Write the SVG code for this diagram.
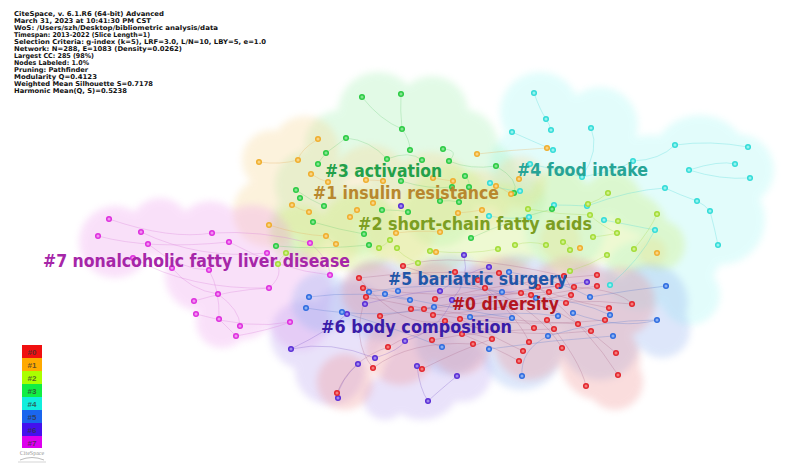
<svg xmlns="http://www.w3.org/2000/svg" width="785" height="473" viewBox="0 0 785 473">
<defs>
<filter id="soft" x="-10%" y="-10%" width="120%" height="120%"><feGaussianBlur stdDeviation="3.5"/></filter>
</defs>
<style>
.hdr{font-family:"DejaVu Sans","Liberation Sans",sans-serif;font-size:6.6px;font-weight:bold;fill:#111}
.lbl{font-family:"DejaVu Sans","Liberation Sans",sans-serif;font-size:17px;font-weight:bold}
.lg{font-family:"Liberation Sans",Arial,sans-serif;font-size:8px;font-weight:bold;fill:#333;fill-opacity:0.75;text-anchor:middle}
.cl{filter:url(#soft)}
.e path{fill:none;stroke-width:0.7}
.e0 path{stroke:#b07090;stroke-opacity:0.45}
.e1 path{stroke:#e8b060;stroke-opacity:0.45}
.e2 path{stroke:#a8d850;stroke-opacity:0.45}
.e3 path{stroke:#60c870;stroke-opacity:0.4}
.e4 path{stroke:#50d8d8;stroke-opacity:0.45}
.e5 path{stroke:#6080d0;stroke-opacity:0.45}
.e6 path{stroke:#8060c8;stroke-opacity:0.45}
.e7 path{stroke:#d880d8;stroke-opacity:0.45}
.n circle{stroke-width:1.5}
.n0 circle{fill:#f37c7c;stroke:#e3262d}
.n1 circle{fill:#f8d484;stroke:#f0ae2e}
.n2 circle{fill:#cff08c;stroke:#a4dc38}
.n3 circle{fill:#84e490;stroke:#2ccb44}
.n4 circle{fill:#96f2ee;stroke:#34dcd8}
.n5 circle{fill:#8cb0f2;stroke:#2f6de0}
.n6 circle{fill:#a088ec;stroke:#5a2fd6}
.n7 circle{fill:#f290f2;stroke:#de30de}
</style>
<rect width="785" height="473" fill="#ffffff"/>

<!-- clouds -->
<g id="cloud4" class="cl" opacity="0.3" fill="#a0f8f4">
<circle cx="540" cy="112" r="40"/><circle cx="600" cy="125" r="38"/><circle cx="530" cy="165" r="40"/><circle cx="590" cy="175" r="45"/><circle cx="650" cy="185" r="50"/><circle cx="700" cy="165" r="50"/><circle cx="738" cy="170" r="36"/><circle cx="720" cy="220" r="45"/><circle cx="680" cy="250" r="42"/><circle cx="640" cy="275" r="35"/><circle cx="690" cy="295" r="30"/><circle cx="565" cy="230" r="40"/>
</g>
<g id="cloud3" class="cl" opacity="0.3" fill="#a0f0b0">
<circle cx="378" cy="112" r="40"/><circle cx="432" cy="112" r="36"/><circle cx="340" cy="145" r="35"/><circle cx="462" cy="145" r="36"/><circle cx="400" cy="155" r="42"/><circle cx="310" cy="185" r="35"/><circle cx="485" cy="175" r="32"/><circle cx="300" cy="225" r="30"/><circle cx="360" cy="220" r="35"/><circle cx="440" cy="212" r="35"/><circle cx="520" cy="200" r="25"/>
</g>
<g id="cloud1" class="cl" opacity="0.33" fill="#f8d898">
<circle cx="272" cy="160" r="30"/><circle cx="305" cy="150" r="34"/><circle cx="268" cy="212" r="35"/><circle cx="320" cy="200" r="40"/><circle cx="370" cy="185" r="40"/><circle cx="430" cy="192" r="40"/><circle cx="330" cy="240" r="30"/><circle cx="400" cy="230" r="35"/><circle cx="480" cy="200" r="30"/><circle cx="520" cy="182" r="26"/><circle cx="560" cy="240" r="20"/><circle cx="652" cy="252" r="14"/>
</g>
<g id="cloud2" class="cl" opacity="0.35" fill="#d0f080">
<circle cx="300" cy="235" r="30"/><circle cx="360" cy="232" r="40"/><circle cx="430" cy="232" r="45"/><circle cx="500" cy="228" r="45"/><circle cx="570" cy="228" r="45"/><circle cx="628" cy="232" r="40"/><circle cx="660" cy="245" r="25"/><circle cx="560" cy="198" r="30"/><circle cx="612" cy="202" r="30"/><circle cx="450" cy="205" r="40"/>
</g>
<g id="cloud7" class="cl" opacity="0.3" fill="#ee9cee">
<circle cx="115" cy="242" r="36"/><circle cx="160" cy="228" r="30"/><circle cx="210" cy="236" r="35"/><circle cx="252" cy="245" r="40"/><circle cx="200" cy="276" r="35"/><circle cx="240" cy="300" r="40"/><circle cx="292" cy="290" r="40"/><circle cx="222" cy="322" r="26"/><circle cx="300" cy="320" r="30"/>
</g>
<g id="cloud6" class="cl" opacity="0.3" fill="#b8a0f0">
<circle cx="305" cy="335" r="35"/><circle cx="352" cy="322" r="40"/><circle cx="420" cy="322" r="40"/><circle cx="480" cy="302" r="35"/><circle cx="330" cy="370" r="35"/><circle cx="422" cy="380" r="40"/><circle cx="462" cy="372" r="30"/><circle cx="385" cy="398" r="22"/>
</g>
<g id="cloud5" class="cl" opacity="0.3" fill="#90b0f0">
<circle cx="322" cy="302" r="30"/><circle cx="380" cy="300" r="40"/><circle cx="450" cy="300" r="45"/><circle cx="520" cy="300" r="45"/><circle cx="590" cy="305" r="40"/><circle cx="650" cy="302" r="38"/><circle cx="662" cy="330" r="28"/><circle cx="522" cy="350" r="40"/><circle cx="600" cy="340" r="40"/><circle cx="450" cy="340" r="35"/>
</g>
<g id="cloud0" class="cl" opacity="0.3" fill="#f09090">
<circle cx="372" cy="292" r="30"/><circle cx="430" cy="302" r="40"/><circle cx="500" cy="302" r="45"/><circle cx="570" cy="302" r="45"/><circle cx="620" cy="302" r="35"/><circle cx="530" cy="345" r="35"/><circle cx="600" cy="360" r="40"/><circle cx="615" cy="382" r="28"/><circle cx="345" cy="382" r="28"/><circle cx="400" cy="350" r="35"/><circle cx="460" cy="345" r="30"/>
</g>

<!-- connectors -->
<g id="connectors" class="e">
<g class="e0">
<path d="M359,278 Q420,270 499,273"/><path d="M363,288 Q450,300 549,292"/><path d="M366,297 Q470,320 578,324"/><path d="M380,316 Q470,300 558,286"/><path d="M403,266 Q470,290 531,295"/><path d="M411,309 Q500,330 605,320"/><path d="M424,309 Q520,300 597,286"/><path d="M435,299 Q520,280 597,275"/><path d="M445,321 Q520,340 591,331"/><path d="M455,272 Q500,300 534,328"/><path d="M478,280 Q520,320 529,342"/><path d="M485,288 Q540,310 562,348"/><path d="M499,273 Q560,300 609,308"/><path d="M521,293 Q580,320 616,353"/><path d="M538,287 Q590,330 618,375"/><path d="M547,320 Q580,360 586,386"/><path d="M460,319 Q500,340 523,351"/><path d="M462,334 Q500,350 519,361"/><path d="M432,340 Q480,330 554,329"/><path d="M388,347 Q430,320 492,339"/><path d="M373,368 Q410,340 473,344"/><path d="M422,369 Q460,350 492,339"/><path d="M337,393 Q350,360 388,347"/><path d="M566,302 Q600,300 632,304"/><path d="M574,287 Q620,290 632,304"/><path d="M433,315 Q500,310 571,294"/><path d="M366,297 Q350,340 373,368"/><path d="M564,276 Q580,300 566,302"/><path d="M359,278 Q400,330 445,321"/><path d="M403,266 Q450,250 564,276"/>
</g>
<g class="e5">
<path d="M309,297 Q360,290 410,300"/><path d="M306,308 Q380,320 434,307"/><path d="M342,312 Q400,330 442,347"/><path d="M369,292 Q430,280 502,292"/><path d="M385,294 Q460,310 512,318"/><path d="M470,317 Q520,310 558,316"/><path d="M489,349 Q550,340 613,336"/><path d="M509,272 Q560,280 590,297"/><path d="M536,298 Q580,300 610,315"/><path d="M548,336 Q600,320 657,320"/><path d="M590,297 Q630,290 666,286"/><path d="M522,376 Q520,350 548,336"/><path d="M573,313 Q620,330 657,320"/>
</g>
<g class="e6">
<path d="M291,349 Q330,330 347,314"/><path d="M291,349 Q330,340 375,358"/><path d="M358,364 Q340,380 337,398"/><path d="M375,358 Q400,350 405,341"/><path d="M417,366 Q420,390 428,401"/><path d="M457,376 Q440,390 428,401"/><path d="M365,304 Q420,290 440,291"/><path d="M440,291 Q470,270 489,267"/><path d="M452,300 Q520,290 587,282"/><path d="M405,341 Q440,330 452,300"/><path d="M464,255 Q470,280 452,300"/>
</g>
<g class="e7">
<path d="M109,219 Q170,240 212,233"/><path d="M98,236 Q150,250 229,242"/><path d="M141,232 Q200,260 267,253"/><path d="M148,244 Q180,270 209,270"/><path d="M212,233 Q260,230 310,243"/><path d="M229,242 Q280,270 330,275"/><path d="M133,258 Q190,290 269,288"/><path d="M172,268 Q190,290 218,294"/><path d="M209,270 Q220,290 219,319"/><path d="M194,301 Q230,290 269,288"/><path d="M196,314 Q250,330 290,322"/><path d="M218,294 Q240,310 240,326"/><path d="M219,319 Q230,330 236,336"/><path d="M236,336 Q270,330 290,322"/><path d="M267,253 Q290,270 269,288"/><path d="M310,243 Q330,260 330,275"/>
</g>
<g class="e3">
<path d="M362,97 Q380,120 402,129"/><path d="M401,94 Q400,110 402,129"/><path d="M402,129 Q410,140 410,150"/><path d="M346,138 Q330,150 326,153"/><path d="M326,153 Q320,160 318,164"/><path d="M387,159 Q410,150 422,160"/><path d="M443,149 Q460,150 449,161"/><path d="M449,161 Q470,170 496,166"/><path d="M465,176 Q470,180 469,187"/><path d="M401,181 Q430,190 452,187"/><path d="M296,190 Q310,200 324,206"/><path d="M313,222 Q340,230 364,234"/><path d="M382,210 Q400,210 408,212"/><path d="M369,245 Q320,250 276,246"/><path d="M440,201 Q450,200 459,202"/><path d="M496,166 Q520,180 514,193"/><path d="M471,238 Q510,220 552,209"/><path d="M346,138 Q370,140 387,159"/>
</g>
<g class="e4">
<path d="M534,93 Q540,110 546,119"/><path d="M546,119 Q550,125 551,130"/><path d="M512,132 Q530,140 553,150"/><path d="M591,128 Q600,150 582,177"/><path d="M633,161 Q660,160 675,145"/><path d="M675,145 Q710,140 748,147"/><path d="M689,170 Q720,160 735,164"/><path d="M689,170 Q720,180 750,178"/><path d="M665,188 Q680,195 697,201"/><path d="M697,201 Q705,205 710,211"/><path d="M710,211 Q715,230 718,245"/><path d="M604,220 Q630,225 655,230"/><path d="M587,206 Q630,190 665,188"/><path d="M530,164 Q560,170 582,177"/><path d="M520,191 Q500,190 490,183"/><path d="M489,216 Q510,220 529,217"/><path d="M554,205 Q570,205 587,206"/><path d="M582,177 Q620,170 633,161"/><path d="M655,230 Q640,260 610,285"/>
</g>
<g class="e2">
<path d="M608,193 Q600,200 588,204"/><path d="M590,215 Q600,225 617,233"/><path d="M515,245 Q530,240 546,245"/><path d="M563,242 Q570,245 570,250"/><path d="M593,237 Q610,235 617,233"/><path d="M634,249 Q650,230 657,214"/><path d="M607,255 Q590,265 570,271"/><path d="M498,249 Q470,255 430,251"/><path d="M418,263 Q400,255 397,248"/><path d="M390,240 Q385,245 379,248"/><path d="M286,253 Q280,258 278,264"/><path d="M528,209 Q560,215 590,215"/>
</g>
<g class="e1">
<path d="M318,139 Q300,150 298,160"/><path d="M259,162 Q280,165 298,160"/><path d="M311,174 Q320,180 328,182"/><path d="M366,180 Q375,180 383,181"/><path d="M433,178 Q445,180 453,181"/><path d="M292,205 Q300,210 309,212"/><path d="M350,217 Q355,212 357,210"/><path d="M269,225 Q300,235 326,236"/><path d="M326,236 Q330,240 336,244"/><path d="M396,233 Q420,230 440,232"/><path d="M477,154 Q510,150 547,148"/><path d="M496,186 Q505,190 511,194"/><path d="M482,210 Q470,212 458,213"/>
</g>
</g>

<!-- nodes -->
<g id="nodes-c4" class="n n4">
<circle cx="534" cy="93" r="2.3"/><circle cx="546" cy="119" r="2.3"/><circle cx="551" cy="130" r="2.3"/><circle cx="512" cy="132" r="2.3"/><circle cx="591" cy="128" r="2.3"/><circle cx="553" cy="150" r="2.3"/><circle cx="633" cy="161" r="2.3"/><circle cx="530" cy="164" r="2.3"/><circle cx="582" cy="177" r="2.3"/><circle cx="520" cy="191" r="2.3"/><circle cx="490" cy="183" r="2.3"/><circle cx="489" cy="216" r="2.3"/><circle cx="529" cy="217" r="2.3"/><circle cx="554" cy="205" r="2.3"/><circle cx="587" cy="206" r="2.3"/><circle cx="604" cy="220" r="2.3"/><circle cx="655" cy="230" r="2.3"/><circle cx="665" cy="188" r="2.3"/><circle cx="675" cy="145" r="2.3"/><circle cx="689" cy="170" r="2.3"/><circle cx="697" cy="201" r="2.3"/><circle cx="710" cy="211" r="2.3"/><circle cx="718" cy="245" r="2.3"/><circle cx="735" cy="164" r="2.3"/><circle cx="748" cy="147" r="2.3"/><circle cx="750" cy="178" r="2.3"/><circle cx="610" cy="285" r="2.3"/>
</g>
<g id="nodes-c3" class="n n3">
<circle cx="362" cy="97" r="2.3"/><circle cx="401" cy="94" r="2.3"/><circle cx="402" cy="129" r="2.3"/><circle cx="346" cy="138" r="2.3"/><circle cx="326" cy="153" r="2.3"/><circle cx="318" cy="164" r="2.3"/><circle cx="410" cy="150" r="2.3"/><circle cx="443" cy="149" r="2.3"/><circle cx="387" cy="159" r="2.3"/><circle cx="422" cy="160" r="2.3"/><circle cx="449" cy="161" r="2.3"/><circle cx="496" cy="166" r="2.3"/><circle cx="465" cy="176" r="2.3"/><circle cx="469" cy="187" r="2.3"/><circle cx="401" cy="181" r="2.3"/><circle cx="296" cy="190" r="2.3"/><circle cx="300" cy="198" r="2.3"/><circle cx="324" cy="206" r="2.3"/><circle cx="313" cy="222" r="2.3"/><circle cx="382" cy="210" r="2.3"/><circle cx="408" cy="212" r="2.3"/><circle cx="364" cy="234" r="2.3"/><circle cx="369" cy="245" r="2.3"/><circle cx="276" cy="246" r="2.3"/><circle cx="440" cy="201" r="2.3"/><circle cx="471" cy="238" r="2.3"/><circle cx="452" cy="187" r="2.3"/><circle cx="459" cy="202" r="2.3"/><circle cx="552" cy="209" r="2.3"/><circle cx="514" cy="193" r="2.3"/>
</g>
<g id="nodes-c1" class="n n1">
<circle cx="318" cy="139" r="2.3"/><circle cx="259" cy="162" r="2.3"/><circle cx="298" cy="160" r="2.3"/><circle cx="311" cy="174" r="2.3"/><circle cx="328" cy="182" r="2.3"/><circle cx="366" cy="180" r="2.3"/><circle cx="383" cy="181" r="2.3"/><circle cx="433" cy="178" r="2.3"/><circle cx="453" cy="181" r="2.3"/><circle cx="477" cy="154" r="2.3"/><circle cx="292" cy="205" r="2.3"/><circle cx="309" cy="212" r="2.3"/><circle cx="350" cy="217" r="2.3"/><circle cx="357" cy="210" r="2.3"/><circle cx="373" cy="203" r="2.3"/><circle cx="269" cy="225" r="2.3"/><circle cx="326" cy="236" r="2.3"/><circle cx="336" cy="244" r="2.3"/><circle cx="440" cy="232" r="2.3"/><circle cx="396" cy="233" r="2.3"/><circle cx="436" cy="252" r="2.3"/><circle cx="482" cy="210" r="2.3"/><circle cx="547" cy="148" r="2.3"/><circle cx="519" cy="179" r="2.3"/><circle cx="496" cy="186" r="2.3"/><circle cx="511" cy="194" r="2.3"/><circle cx="580" cy="248" r="2.3"/><circle cx="657" cy="253" r="2.3"/><circle cx="458" cy="213" r="2.3"/>
</g>
<g id="nodes-c2" class="n n2">
<circle cx="608" cy="193" r="2.3"/><circle cx="588" cy="204" r="2.3"/><circle cx="590" cy="215" r="2.3"/><circle cx="528" cy="209" r="2.3"/><circle cx="515" cy="245" r="2.3"/><circle cx="546" cy="245" r="2.3"/><circle cx="563" cy="242" r="2.3"/><circle cx="570" cy="250" r="2.3"/><circle cx="593" cy="237" r="2.3"/><circle cx="617" cy="233" r="2.3"/><circle cx="618" cy="221" r="2.3"/><circle cx="634" cy="249" r="2.3"/><circle cx="657" cy="214" r="2.3"/><circle cx="607" cy="255" r="2.3"/><circle cx="498" cy="249" r="2.3"/><circle cx="570" cy="271" r="2.3"/><circle cx="430" cy="251" r="2.3"/><circle cx="418" cy="263" r="2.3"/><circle cx="390" cy="240" r="2.3"/><circle cx="379" cy="248" r="2.3"/><circle cx="397" cy="248" r="2.3"/><circle cx="286" cy="253" r="2.3"/><circle cx="278" cy="264" r="2.3"/>
</g>
<g id="nodes-c7" class="n n7">
<circle cx="109" cy="219" r="2.3"/><circle cx="98" cy="236" r="2.3"/><circle cx="141" cy="232" r="2.3"/><circle cx="148" cy="244" r="2.3"/><circle cx="212" cy="233" r="2.3"/><circle cx="229" cy="242" r="2.3"/><circle cx="133" cy="258" r="2.3"/><circle cx="172" cy="268" r="2.3"/><circle cx="209" cy="270" r="2.3"/><circle cx="267" cy="253" r="2.3"/><circle cx="310" cy="243" r="2.3"/><circle cx="330" cy="275" r="2.3"/><circle cx="269" cy="288" r="2.3"/><circle cx="194" cy="301" r="2.3"/><circle cx="218" cy="294" r="2.3"/><circle cx="196" cy="314" r="2.3"/><circle cx="219" cy="319" r="2.3"/><circle cx="240" cy="326" r="2.3"/><circle cx="236" cy="336" r="2.3"/><circle cx="290" cy="322" r="2.3"/>
</g>
<g id="nodes-c6" class="n n6">
<circle cx="291" cy="349" r="2.3"/><circle cx="347" cy="314" r="2.3"/><circle cx="365" cy="304" r="2.3"/><circle cx="358" cy="364" r="2.3"/><circle cx="375" cy="358" r="2.3"/><circle cx="338" cy="398" r="2.3"/><circle cx="405" cy="341" r="2.3"/><circle cx="489" cy="267" r="2.3"/><circle cx="464" cy="255" r="2.3"/><circle cx="440" cy="291" r="2.3"/><circle cx="452" cy="300" r="2.3"/><circle cx="417" cy="366" r="2.3"/><circle cx="457" cy="376" r="2.3"/><circle cx="428" cy="401" r="2.3"/><circle cx="587" cy="282" r="2.3"/><circle cx="401" cy="206" r="2.3"/>
</g>
<g id="nodes-c5" class="n n5">
<circle cx="309" cy="297" r="2.3"/><circle cx="306" cy="308" r="2.3"/><circle cx="342" cy="312" r="2.3"/><circle cx="369" cy="292" r="2.3"/><circle cx="385" cy="294" r="2.3"/><circle cx="398" cy="291" r="2.3"/><circle cx="410" cy="300" r="2.3"/><circle cx="434" cy="307" r="2.3"/><circle cx="442" cy="347" r="2.3"/><circle cx="470" cy="317" r="2.3"/><circle cx="489" cy="349" r="2.3"/><circle cx="502" cy="292" r="2.3"/><circle cx="509" cy="272" r="2.3"/><circle cx="512" cy="318" r="2.3"/><circle cx="536" cy="298" r="2.3"/><circle cx="548" cy="336" r="2.3"/><circle cx="558" cy="316" r="2.3"/><circle cx="573" cy="313" r="2.3"/><circle cx="590" cy="297" r="2.3"/><circle cx="610" cy="315" r="2.3"/><circle cx="613" cy="336" r="2.3"/><circle cx="522" cy="376" r="2.3"/><circle cx="666" cy="286" r="2.3"/><circle cx="657" cy="320" r="2.3"/>
</g>
<g id="nodes-c0" class="n n0">
<circle cx="403" cy="266" r="2.3"/><circle cx="359" cy="278" r="2.3"/><circle cx="363" cy="288" r="2.3"/><circle cx="366" cy="297" r="2.3"/><circle cx="435" cy="299" r="2.3"/><circle cx="411" cy="309" r="2.3"/><circle cx="424" cy="309" r="2.3"/><circle cx="380" cy="316" r="2.3"/><circle cx="433" cy="315" r="2.3"/><circle cx="445" cy="321" r="2.3"/><circle cx="460" cy="319" r="2.3"/><circle cx="455" cy="272" r="2.3"/><circle cx="478" cy="280" r="2.3"/><circle cx="485" cy="288" r="2.3"/><circle cx="499" cy="273" r="2.3"/><circle cx="521" cy="293" r="2.3"/><circle cx="531" cy="295" r="2.3"/><circle cx="538" cy="287" r="2.3"/><circle cx="549" cy="292" r="2.3"/><circle cx="558" cy="286" r="2.3"/><circle cx="564" cy="276" r="2.3"/><circle cx="574" cy="287" r="2.3"/><circle cx="571" cy="295" r="2.3"/><circle cx="597" cy="275" r="2.3"/><circle cx="597" cy="286" r="2.3"/><circle cx="566" cy="303" r="2.3"/><circle cx="609" cy="308" r="2.3"/><circle cx="605" cy="320" r="2.3"/><circle cx="578" cy="324" r="2.3"/><circle cx="591" cy="331" r="2.3"/><circle cx="562" cy="348" r="2.3"/><circle cx="554" cy="329" r="2.3"/><circle cx="547" cy="320" r="2.3"/><circle cx="534" cy="328" r="2.3"/><circle cx="529" cy="342" r="2.3"/><circle cx="523" cy="351" r="2.3"/><circle cx="519" cy="361" r="2.3"/><circle cx="492" cy="339" r="2.3"/><circle cx="473" cy="344" r="2.3"/><circle cx="432" cy="340" r="2.3"/><circle cx="388" cy="347" r="2.3"/><circle cx="373" cy="368" r="2.3"/><circle cx="422" cy="369" r="2.3"/><circle cx="462" cy="334" r="2.3"/><circle cx="616" cy="353" r="2.3"/><circle cx="618" cy="375" r="2.3"/><circle cx="586" cy="386" r="2.3"/><circle cx="337" cy="393" r="2.3"/><circle cx="632" cy="304" r="2.3"/>
</g>

<!-- cluster labels -->
<g id="label-3"><text class="lbl" x="325" y="177" fill="#23a04a" textLength="117" lengthAdjust="spacingAndGlyphs">#3 activation</text></g>
<g id="label-4"><text class="lbl" x="517" y="176" fill="#27a496" textLength="131" lengthAdjust="spacingAndGlyphs">#4 food intake</text></g>
<g id="label-1"><text class="lbl" x="313" y="199" fill="#b8872e" textLength="186" lengthAdjust="spacingAndGlyphs">#1 insulin resistance</text></g>
<g id="label-2"><text class="lbl" x="358" y="230" fill="#7c9e22" textLength="234" lengthAdjust="spacingAndGlyphs">#2 short-chain fatty acids</text></g>
<g id="label-7"><text class="lbl" x="43" y="267" fill="#a626a8" textLength="307" lengthAdjust="spacingAndGlyphs">#7 nonalcoholic fatty liver disease</text></g>
<g id="label-5"><text class="lbl" x="388" y="285" fill="#1f56a8" textLength="179" lengthAdjust="spacingAndGlyphs">#5 bariatric surgery</text></g>
<g id="label-0"><text class="lbl" x="452" y="310" fill="#b3161f" textLength="107" lengthAdjust="spacingAndGlyphs">#0 diversity</text></g>
<g id="label-6"><text class="lbl" x="321" y="333" fill="#3a1ca8" textLength="191" lengthAdjust="spacingAndGlyphs">#6 body composition</text></g>

<!-- header -->
<g id="header" class="hdr">
<text x="14" y="15.5" textLength="150" lengthAdjust="spacingAndGlyphs">CiteSpace, v. 6.1.R6 (64-bit) Advanced</text>
<text x="14" y="22.5" textLength="137" lengthAdjust="spacingAndGlyphs">March 31, 2023 at 10:41:30 PM CST</text>
<text x="14" y="29.5" textLength="204" lengthAdjust="spacingAndGlyphs">WoS: /Users/szh/Desktop/bibliometric analysis/data</text>
<text x="14" y="36.5" textLength="136" lengthAdjust="spacingAndGlyphs">Timespan: 2013-2022 (Slice Length=1)</text>
<text x="14" y="43.5" textLength="252" lengthAdjust="spacingAndGlyphs">Selection Criteria: g-index (k=5), LRF=3.0, L/N=10, LBY=5, e=1.0</text>
<text x="14" y="50.5" textLength="168" lengthAdjust="spacingAndGlyphs">Network: N=288, E=1083 (Density=0.0262)</text>
<text x="14" y="57.5" textLength="80" lengthAdjust="spacingAndGlyphs">Largest CC: 285 (98%)</text>
<text x="14" y="64.5" textLength="75" lengthAdjust="spacingAndGlyphs">Nodes Labeled: 1.0%</text>
<text x="14" y="71.5" textLength="74" lengthAdjust="spacingAndGlyphs">Pruning: Pathfinder</text>
<text x="14" y="78.5" textLength="83" lengthAdjust="spacingAndGlyphs">Modularity Q=0.4123</text>
<text x="14" y="85.5" textLength="139" lengthAdjust="spacingAndGlyphs">Weighted Mean Silhouette S=0.7178</text>
<text x="14" y="92.5" textLength="113" lengthAdjust="spacingAndGlyphs">Harmonic Mean(Q, S)=0.5238</text>
</g>

<!-- legend -->
<g id="legend">
<rect x="22" y="345" width="20" height="13" fill="#f01010"/>
<rect x="22" y="358" width="20" height="13" fill="#ffaa00"/>
<rect x="22" y="371" width="20" height="13" fill="#aaff00"/>
<rect x="22" y="384" width="20" height="13" fill="#11ee44"/>
<rect x="22" y="397" width="20" height="13" fill="#11eedd"/>
<rect x="22" y="410" width="20" height="13" fill="#1a66ee"/>
<rect x="22" y="423" width="20" height="13" fill="#4411ee"/>
<rect x="22" y="436" width="20" height="12" fill="#dd00ee"/>
<text class="lg" x="32" y="354.5">#0</text>
<text class="lg" x="32" y="367.5">#1</text>
<text class="lg" x="32" y="380.5">#2</text>
<text class="lg" x="32" y="393.5">#3</text>
<text class="lg" x="32" y="406.5">#4</text>
<text class="lg" x="32" y="419.5">#5</text>
<text class="lg" x="32" y="432.5">#6</text>
<text class="lg" x="32" y="445.5">#7</text>
<text x="32" y="455" font-family="Liberation Serif,serif" font-size="6" fill="#999" text-anchor="middle">CiteSpace</text>
<path d="M20,460 Q32,455 44,460" fill="none" stroke="#aaa" stroke-width="0.8"/>
<path d="M18,462 H46" stroke="#bbb" stroke-width="0.6"/>
</g>
</svg>
